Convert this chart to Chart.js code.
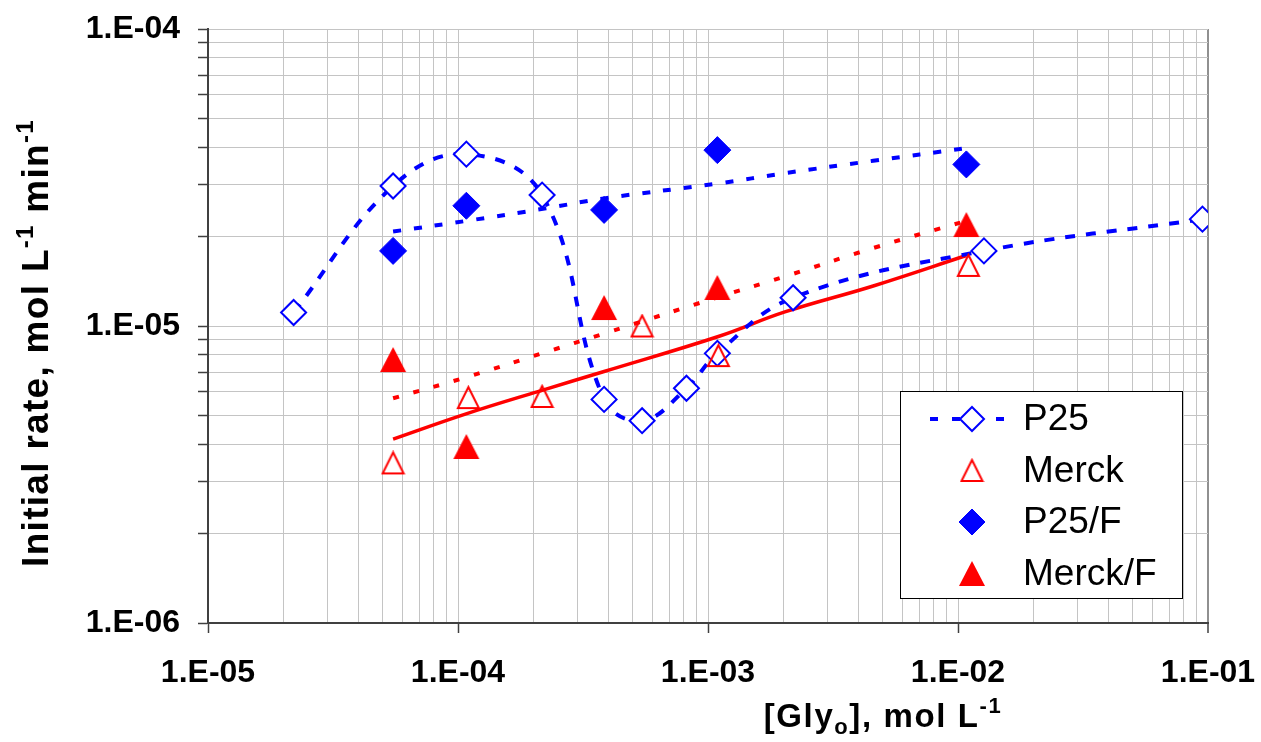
<!DOCTYPE html>
<html>
<head>
<meta charset="utf-8">
<script src="https://cdn.jsdelivr.net/npm/chart.js@4.4.1/dist/chart.umd.min.js"></script>
<style>
  html, body { margin: 0; padding: 0; background: #fff; }
  #wrap { width: 1261px; height: 742px; }
</style>
</head>
<body>
<div id="wrap"><canvas id="rates" width="1261" height="742"></canvas></div>
<script>
// initial glycine concentration (mol/L) and initial rate (mol/L/min)
const p25Conc = [2.2e-5, 5.5e-5, 1.08e-4, 2.17e-4, 3.84e-4, 5.45e-4, 8.2e-4, 1.09e-3, 2.19e-3, 1.27e-2, 9.5e-2];
const p25Rate = [1.11e-5, 2.96e-5, 3.79e-5, 2.76e-5, 5.66e-6, 4.80e-6, 6.17e-6, 8.09e-6, 1.245e-5, 1.79e-5, 2.29e-5];

const merckConc = [5.5e-5, 1.1e-4, 2.17e-4, 5.45e-4, 1.1e-3, 1.1e-2];
const merckRate = [3.46e-6, 5.74e-6, 5.79e-6, 1.0e-5, 7.95e-6, 1.60e-5];

const p25fConc = [5.5e-5, 1.08e-4, 3.84e-4, 1.09e-3, 1.08e-2];
const p25fRate = [1.79e-5, 2.54e-5, 2.46e-5, 3.91e-5, 3.50e-5];

const merckfConc = [5.5e-5, 1.08e-4, 3.84e-4, 1.09e-3, 1.08e-2];
const merckfRate = [7.71e-6, 3.93e-6, 1.154e-5, 1.348e-5, 2.196e-5];

// fitted curves
const fitConc = [5.5e-5, 1.085e-4, 2.25e-4, 3.84e-4, 1.1e-3, 2.03e-3, 4.58e-3, 1.08e-2];
const p25fFit = [2.08e-5, 2.26e-5, 2.49e-5, 2.69e-5, 3.02e-5, 3.27e-5, 3.60e-5, 3.97e-5];
const merckfFit = [5.71e-6, 6.73e-6, 8.17e-6, 9.43e-6, 1.252e-5, 1.468e-5, 1.83e-5, 2.26e-5];
const merckFit = [4.16e-6, 5.07e-6, 6.13e-6, 7.03e-6, 9.22e-6, 1.115e-5, 1.364e-5, 1.727e-5];

const xRange = [1e-5, 1e-1];
const yRange = [1e-6, 1e-4];

const BLUE = '#0000ff';
const RED = '#ff0000';
const FONT = "'Liberation Sans', Arial, sans-serif";

const pts = (xs, ys) => xs.map((x, i) => ({ x: x, y: ys[i] }));

// 1..9 x 10^n between the axis limits
function logTicks(min, max) {
  const out = [];
  for (let e = Math.round(Math.log10(min)); e < Math.round(Math.log10(max)); e++) {
    for (let m = 1; m < 10; m++) out.push({ value: parseFloat((m * Math.pow(10, e)).toPrecision(3)) });
  }
  out.push({ value: max });
  return out;
}

function isDecade(v) {
  const e = Math.round(Math.log10(v));
  return Math.abs(v - Math.pow(10, e)) < Math.pow(10, e) * 1e-6;
}

function sciLabel(v) {
  if (!isDecade(v)) return '';
  const e = Math.round(Math.log10(v));
  return '1.E' + (e < 0 ? '-' : '+') + String(Math.abs(e)).padStart(2, '0');
}

function triangleMarker(w, h, fill, stroke, lw) {
  const c = document.createElement('canvas');
  c.width = w + lw * 2;
  c.height = h + lw * 2;
  const g = c.getContext('2d');
  g.beginPath();
  g.moveTo(c.width / 2, lw);
  g.lineTo(c.width - lw, lw + h);
  g.lineTo(lw, lw + h);
  g.closePath();
  if (fill) { g.fillStyle = fill; g.fill(); }
  if (stroke) { g.strokeStyle = stroke; g.lineWidth = lw; g.lineJoin = 'miter'; g.stroke(); }
  return c;
}

const openTri = triangleMarker(21, 21, null, RED, 2);
const solidTri = triangleMarker(26, 25, RED, null, 1);

function drawDiamond(ctx, x, y, r, fill, stroke, lw) {
  ctx.beginPath();
  ctx.moveTo(x, y - r);
  ctx.lineTo(x + r, y);
  ctx.lineTo(x, y + r);
  ctx.lineTo(x - r, y);
  ctx.closePath();
  ctx.fillStyle = fill;
  ctx.fill();
  ctx.lineWidth = lw;
  ctx.strokeStyle = stroke;
  ctx.stroke();
}

// text with sub/superscripts, parts = [{t, size, dy}]
function richWidth(ctx, parts, weight, spacing) {
  let w = 0;
  parts.forEach(p => {
    ctx.font = weight + ' ' + p.size + 'px ' + FONT;
    w += ctx.measureText(p.t).width + spacing * p.t.length;
  });
  return w;
}

function drawRich(ctx, parts, x, y, weight, spacing) {
  let cx = x;
  parts.forEach(p => {
    ctx.font = weight + ' ' + p.size + 'px ' + FONT;
    for (const ch of p.t) {
      ctx.fillText(ch, cx, y + (p.dy || 0));
      cx += ctx.measureText(ch).width + spacing;
    }
  });
}

const yTitle = [
  { t: 'Initial rate, mol L', size: 37 },
  { t: '-1', size: 24, dy: -15 },
  { t: ' min', size: 37 },
  { t: '-1', size: 24, dy: -15 }
];
const xTitle = [
  { t: '[Gly', size: 33 },
  { t: 'o', size: 22, dy: 7 },
  { t: '], mol L', size: 33 },
  { t: '-1', size: 22, dy: -14 }
];

const legendRows = [
  { label: 'P25', kind: 'openDiamond', line: true },
  { label: 'Merck', kind: 'openTri' },
  { label: 'P25/F', kind: 'solidDiamond' },
  { label: 'Merck/F', kind: 'solidTri' }
];

const overlay = {
  id: 'overlay',
  afterDraw(chart) {
    const ctx = chart.ctx;
    ctx.save();
    ctx.fillStyle = '#000';
    ctx.textBaseline = 'alphabetic';
    ctx.textAlign = 'left';

    // axis titles
    ctx.save();
    ctx.translate(48, 343);
    ctx.rotate(-Math.PI / 2);
    drawRich(ctx, yTitle, -richWidth(ctx, yTitle, 'bold', 1.3) / 2, 0, 'bold', 1.3);
    ctx.restore();
    drawRich(ctx, xTitle, 883 - richWidth(ctx, xTitle, 'bold', 1.6) / 2, 727, 'bold', 1.6);

    // legend box
    const bx = 900, by = 391, bw = 282, bh = 207;
    ctx.fillStyle = '#fff';
    ctx.fillRect(bx, by, bw, bh);
    ctx.strokeStyle = '#000';
    ctx.lineWidth = 1;
    ctx.strokeRect(bx + 0.5, by + 0.5, bw, bh);

    legendRows.forEach((row, i) => {
      const cy = 419 + i * 51.5;
      const mx = 972;
      if (row.line) {
        ctx.save();
        ctx.strokeStyle = BLUE;
        ctx.lineWidth = 4;
        ctx.setLineDash([8, 14]);
        ctx.beginPath();
        ctx.moveTo(930, cy);
        ctx.lineTo(1004, cy);
        ctx.stroke();
        ctx.restore();
      }
      if (row.kind === 'openDiamond') drawDiamond(ctx, mx, cy, 12, '#fff', BLUE, 2);
      if (row.kind === 'solidDiamond') drawDiamond(ctx, mx, cy, 13, BLUE, BLUE, 1);
      if (row.kind === 'openTri') ctx.drawImage(openTri, mx - openTri.width / 2, cy - openTri.height / 2);
      if (row.kind === 'solidTri') ctx.drawImage(solidTri, mx - solidTri.width / 2, cy - solidTri.height / 2);
      ctx.fillStyle = '#000';
      ctx.font = '37px ' + FONT;
      ctx.textBaseline = 'middle';
      ctx.fillText(row.label, 1023, cy + 1);
    });
    ctx.restore();
  }
};

const tickFont = { family: FONT, size: 32, weight: 'bold' };

new Chart(document.getElementById('rates'), {
  type: 'scatter',
  data: {
    datasets: [
      {
        label: 'P25', order: 4,
        data: pts(p25Conc, p25Rate),
        showLine: true, tension: 0.4,
        borderColor: BLUE, borderWidth: 4, borderDash: [10, 11],
        pointStyle: 'rectRot', pointRadius: 12.5, pointBorderWidth: 2,
        pointBackgroundColor: '#fff', pointBorderColor: BLUE
      },
      {
        label: 'Merck', order: 3,
        data: pts(merckConc, merckRate),
        showLine: false, pointStyle: openTri
      },
      {
        label: 'P25/F', order: 2,
        data: pts(p25fConc, p25fRate),
        showLine: false,
        pointStyle: 'rectRot', pointRadius: 13.5, pointBorderWidth: 1,
        pointBackgroundColor: BLUE, pointBorderColor: BLUE
      },
      {
        label: 'Merck/F', order: 1,
        data: pts(merckfConc, merckfRate),
        showLine: false, pointStyle: solidTri
      },
      {
        label: 'P25/F fit', order: 5,
        data: pts(fitConc, p25fFit),
        showLine: true, tension: 0.4, pointRadius: 0,
        borderColor: BLUE, borderWidth: 4, borderDash: [8, 13]
      },
      {
        label: 'Merck/F fit', order: 6,
        data: pts(fitConc, merckfFit),
        showLine: true, tension: 0.4, pointRadius: 0,
        borderColor: RED, borderWidth: 4, borderDash: [6, 15]
      },
      {
        label: 'Merck fit', order: 7,
        data: pts(fitConc, merckFit),
        showLine: true, tension: 0.4, pointRadius: 0,
        borderColor: RED, borderWidth: 3.5
      }
    ]
  },
  options: {
    responsive: false,
    animation: false,
    devicePixelRatio: 1,
    layout: { padding: { top: 29, right: 53, left: 0, bottom: 0 } },
    plugins: {
      legend: { display: false },
      tooltip: { enabled: false }
    },
    scales: {
      x: {
        type: 'logarithmic',
        min: xRange[0], max: xRange[1],
        afterBuildTicks: (scale) => { scale.ticks = logTicks(xRange[0], xRange[1]); },
        afterFit: (scale) => {
          scale.height = 119;
          scale.paddingLeft = 0;
          scale.paddingRight = 0;
        },
        border: { color: '#404040', width: 2 },
        grid: {
          color: (c) => (c.tick && c.tick.value >= xRange[1] ? '#909090' : '#c4c4c4'),
          lineWidth: (c) => (c.tick && c.tick.value >= xRange[1] ? 2 : 1),
          tickLength: 10,
          tickColor: (c) => (c.tick && isDecade(c.tick.value) ? '#404040' : 'rgba(0,0,0,0)'),
          tickWidth: 1.5
        },
        ticks: {
          autoSkip: false, maxRotation: 0, padding: 21,
          color: '#000', font: tickFont,
          callback: (v) => sciLabel(v)
        }
      },
      y: {
        type: 'logarithmic',
        min: yRange[0], max: yRange[1],
        afterBuildTicks: (scale) => { scale.ticks = logTicks(yRange[0], yRange[1]); },
        afterFit: (scale) => {
          scale.width = 208;
          scale.paddingTop = 0;
          scale.paddingBottom = 0;
        },
        border: { color: '#404040', width: 2 },
        grid: {
          color: '#c4c4c4',
          lineWidth: 1,
          tickLength: 10,
          tickColor: '#404040',
          tickWidth: 1.5
        },
        ticks: {
          autoSkip: false, padding: 18,
          color: '#000', font: tickFont,
          callback: (v) => sciLabel(v)
        }
      }
    }
  },
  plugins: [overlay]
});
</script>
</body>
</html>
